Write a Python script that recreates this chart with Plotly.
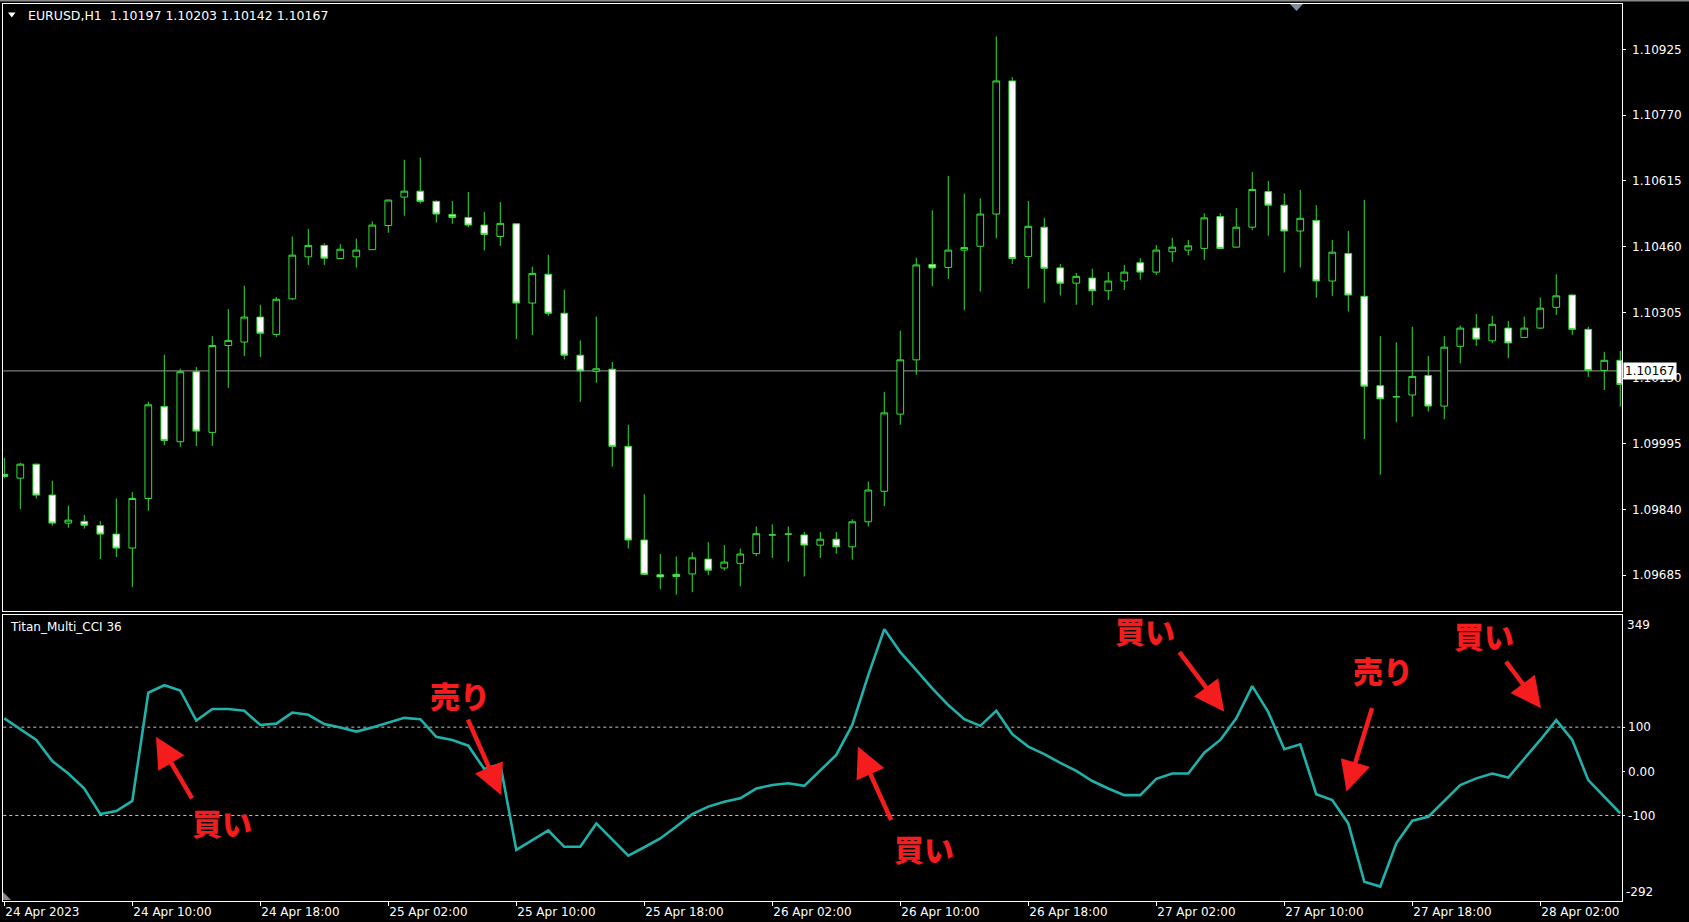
import plotly.graph_objects as go

# ---------------- data ----------------
bar_index = list(range(102))  # H1 bars, 24 Apr 2023 02:00 ... 28 Apr 07:00

open_ = [1.09923, 1.09914, 1.09947, 1.09874, 1.09808, 1.09812, 1.09802, 1.09782, 1.09749, 1.09866,
         1.10083, 1.10000, 1.10165, 1.10022, 1.10227, 1.10235, 1.10294, 1.10253, 1.10337, 1.10436,
         1.10463, 1.10432, 1.10436, 1.10453, 1.10510, 1.10577, 1.10591, 1.10567, 1.10536, 1.10529,
         1.10511, 1.10484, 1.10514, 1.10327, 1.10395, 1.10303, 1.10204, 1.10166, 1.10171, 1.09989,
         1.09768, 1.09686, 1.09687, 1.09688, 1.09723, 1.09702, 1.09713, 1.09736, 1.09780, 1.09782,
         1.09780, 1.09756, 1.09770, 1.09752, 1.09811, 1.09883, 1.10065, 1.10193, 1.10418, 1.10411,
         1.10452, 1.10461, 1.10537, 1.10851, 1.10437, 1.10506, 1.10410, 1.10374, 1.10386, 1.10356,
         1.10379, 1.10422, 1.10400, 1.10448, 1.10452, 1.10456, 1.10531, 1.10459, 1.10506, 1.10590,
         1.10558, 1.10497, 1.10522, 1.10379, 1.10444, 1.10343, 1.10132, 1.10106, 1.10110, 1.10156,
         1.10084, 1.10225, 1.10268, 1.10238, 1.10268, 1.10246, 1.10268, 1.10317, 1.10346, 1.10265,
         1.10168, 1.10192]
high = [1.09962, 1.09950, 1.09948, 1.09908, 1.09849, 1.09827, 1.09813, 1.09866, 1.09881, 1.10094,
        1.10205, 1.10172, 1.10176, 1.10249, 1.10313, 1.10368, 1.10323, 1.10341, 1.10484, 1.10502,
        1.10468, 1.10466, 1.10479, 1.10520, 1.10571, 1.10665, 1.10670, 1.10569, 1.10568, 1.10589,
        1.10542, 1.10565, 1.10515, 1.10413, 1.10441, 1.10358, 1.10239, 1.10295, 1.10188, 1.10040,
        1.09876, 1.09735, 1.09729, 1.09739, 1.09763, 1.09756, 1.09748, 1.09800, 1.09805, 1.09800,
        1.09787, 1.09787, 1.09787, 1.09817, 1.09906, 1.10117, 1.10262, 1.10434, 1.10546, 1.10627,
        1.10585, 1.10574, 1.10956, 1.10860, 1.10568, 1.10528, 1.10419, 1.10398, 1.10408, 1.10400,
        1.10417, 1.10433, 1.10464, 1.10481, 1.10476, 1.10539, 1.10539, 1.10551, 1.10636, 1.10615,
        1.10586, 1.10594, 1.10558, 1.10476, 1.10497, 1.10570, 1.10249, 1.10234, 1.10271, 1.10202,
        1.10249, 1.10274, 1.10301, 1.10297, 1.10285, 1.10295, 1.10340, 1.10395, 1.10347, 1.10271,
        1.10212, 1.10214]
low = [1.09914, 1.09841, 1.09866, 1.09802, 1.09797, 1.09795, 1.09723, 1.09728, 1.09657, 1.09837,
       1.09992, 1.09988, 1.09990, 1.09990, 1.10127, 1.10202, 1.10200, 1.10247, 1.10334, 1.10417,
       1.10417, 1.10432, 1.10411, 1.10452, 1.10493, 1.10533, 1.10562, 1.10517, 1.10514, 1.10506,
       1.10451, 1.10462, 1.10242, 1.10252, 1.10297, 1.10194, 1.10094, 1.10139, 1.09941, 1.09748,
       1.09686, 1.09652, 1.09639, 1.09645, 1.09685, 1.09696, 1.09659, 1.09730, 1.09726, 1.09717,
       1.09682, 1.09726, 1.09736, 1.09722, 1.09800, 1.09848, 1.10040, 1.10158, 1.10367, 1.10384,
       1.10310, 1.10354, 1.10480, 1.10419, 1.10361, 1.10328, 1.10345, 1.10323, 1.10322, 1.10334,
       1.10358, 1.10382, 1.10393, 1.10424, 1.10440, 1.10429, 1.10455, 1.10458, 1.10499, 1.10486,
       1.10399, 1.10411, 1.10340, 1.10344, 1.10307, 1.10006, 1.09922, 1.10046, 1.10059, 1.10071,
       1.10053, 1.10185, 1.10226, 1.10232, 1.10197, 1.10245, 1.10266, 1.10299, 1.10252, 1.10153,
       1.10122, 1.10083]
close = [1.09918, 1.09947, 1.09874, 1.09808, 1.09815, 1.09803, 1.09782, 1.09749, 1.09866, 1.10087,
         1.10003, 1.10165, 1.10025, 1.10227, 1.10239, 1.10294, 1.10256, 1.10336, 1.10440, 1.10463,
         1.10433, 1.10454, 1.10452, 1.10511, 1.10570, 1.10591, 1.10567, 1.10537, 1.10529, 1.10511,
         1.10489, 1.10515, 1.10327, 1.10397, 1.10303, 1.10204, 1.10167, 1.10172, 1.09989, 1.09768,
         1.09687, 1.09681, 1.09682, 1.09726, 1.09697, 1.09716, 1.09735, 1.09783, 1.09780, 1.09782,
         1.09756, 1.09770, 1.09752, 1.09811, 1.09886, 1.10068, 1.10193, 1.10417, 1.10410, 1.10452,
         1.10458, 1.10537, 1.10851, 1.10432, 1.10508, 1.10409, 1.10374, 1.10390, 1.10356, 1.10379,
         1.10400, 1.10400, 1.10452, 1.10459, 1.10462, 1.10528, 1.10456, 1.10506, 1.10595, 1.10558,
         1.10497, 1.10527, 1.10379, 1.10447, 1.10346, 1.10131, 1.10101, 1.10106, 1.10154, 1.10084,
         1.10223, 1.10268, 1.10242, 1.10277, 1.10233, 1.10268, 1.10315, 1.10344, 1.10265, 1.10168,
         1.10192, 1.10135]

cci = [120, 96, 71, 23, -5, -39, -97, -90, -67, 178,
       195, 183, 115, 141, 141, 137, 105, 108, 133, 128,
       107, 99, 90, 99, 110, 121, 118, 78, 71, 58,
       5, 16, -178, -156, -134, -171, -171, -118, -154, -191,
       -172, -152, -125, -97, -80, -69, -61, -39, -31, -27,
       -33, 1, 37, 105, 218, 322, 270, 229, 188, 150,
       118, 103, 137, 84, 56, 39, 19, 1, -22, -39,
       -54, -54, -17, -5, -5, 42, 71, 120, 193, 134,
       50, 61, -52, -65, -118, -250, -261, -163, -112, -103,
       -67, -31, -16, -5, -14, 28, 71, 116, 71, -20,
       -57, -95]

time_tick_bars = [0, 8, 16, 24, 32, 40, 48, 56, 64, 72, 80, 88, 96]
time_tick_labels = ["24 Apr 2023", "24 Apr 10:00", "24 Apr 18:00", "25 Apr 02:00", "25 Apr 10:00",
                    "25 Apr 18:00", "26 Apr 02:00", "26 Apr 10:00", "26 Apr 18:00", "27 Apr 02:00",
                    "27 Apr 10:00", "27 Apr 18:00", "28 Apr 02:00"]
price_ticks = [1.09685, 1.09840, 1.09995, 1.10150, 1.10305, 1.10460, 1.10615, 1.10770, 1.10925]
cci_ticks = [100, 0, -100]
cci_tick_labels = ["100", "0.00", "-100"]
cci_levels = [100, -100]
cci_scale_max, cci_scale_min = 349, -292
bid_price = 1.10167
header = "EURUSD,H1\u00a0\u00a01.10197 1.10203 1.10142 1.10167"
indicator_name = "Titan_Multi_CCI 36"

# signals: (label, text bar, text cci, arrow-tip bar, arrow-tip cci, tail dx px, tail dy px)
signals = [
    ("買い", 13.6, -115, 9.48, 78, 37, 63),
    ("売り", 28.5, 173, 31.06, -54, -34, -77),
    ("買い", 57.5, -174, 53.35, 56, 34, 75),
    ("買い", 71.3, 319, 76.25, 135, -46, -61),
    ("売り", 86.2, 229, 83.89, -46, 26, -85),
    ("買い", 92.5, 309, 96.04, 143, -36, -48),
]

# ---------------- figure ----------------
W, H = 1689, 922
def px(x):
    return x / W
def py(y):
    return 1 - y / H

GREEN = "#35e035"
TEAL = "#20b2aa"
RED = "#f41c1c"
FONT = "DejaVu Sans"
X_RANGE = [-0.0625, 101.09]

fig = go.Figure()
fig.add_trace(go.Candlestick(
    x=bar_index, open=open_, high=high, low=low, close=close,
    xaxis="x", yaxis="y",
    increasing=dict(line=dict(color=GREEN, width=1), fillcolor="black"),
    decreasing=dict(line=dict(color=GREEN, width=1), fillcolor="white"),
    whiskerwidth=0, showlegend=False, hoverinfo="skip",
))
fig.add_trace(go.Scatter(
    x=bar_index, y=cci, xaxis="x2", yaxis="y2", mode="lines",
    line=dict(color=TEAL, width=2.6), showlegend=False, hoverinfo="skip",
))

axis_common = dict(showgrid=False, zeroline=False, showline=True, linecolor="white",
                   linewidth=1, mirror=True)
tickfont = dict(family=FONT, size=12, color="white")

fig.update_layout(
    width=W, height=H, margin=dict(l=0, r=0, t=0, b=0),
    paper_bgcolor="black", plot_bgcolor="black", showlegend=False,
    hovermode=False, boxgap=0.4,
    xaxis=dict(domain=[px(3.3), px(1621.7)], range=X_RANGE, anchor="y",
               showticklabels=False, ticks="", rangeslider=dict(visible=False),
               **axis_common),
    yaxis=dict(domain=[py(611), py(4)], range=[1.096006, 1.110325], anchor="x",
               side="right", tickvals=price_ticks,
               ticktext=[f"{v:.5f}" for v in price_ticks],
               ticks="outside", ticklen=3, tickcolor="white", tickfont=tickfont,
               ticklabelstandoff=4, **axis_common),
    xaxis2=dict(domain=[px(3.3), px(1621.7)], range=X_RANGE, anchor="y2",
                tickvals=time_tick_bars, ticktext=time_tick_labels,
                ticks="outside", ticklen=4, tickcolor="white", tickfont=tickfont,
                ticklabelposition="outside right", rangeslider=dict(visible=False),
                **axis_common),
    yaxis2=dict(domain=[py(900.5), py(615)], range=[-292.6, 354], anchor="x2",
                side="right", tickvals=cci_ticks, ticktext=cci_tick_labels,
                ticks="outside", ticklen=2, tickcolor="white", tickfont=tickfont,
                ticklabelstandoff=1, **axis_common),
)

shapes = []
# bid line
shapes.append(dict(type="line", xref="x domain", x0=0, x1=1, yref="y", y0=bid_price, y1=bid_price,
                   line=dict(color="#9a9a9a", width=1), layer="below"))
# CCI levels
for lv in cci_levels:
    shapes.append(dict(type="line", xref="x2 domain", x0=0, x1=1, yref="y2", y0=lv, y1=lv,
                       line=dict(color="#c8c8c8", width=1, dash="3px,3px"), layer="below"))
# window strip at top
shapes.append(dict(type="rect", xref="paper", yref="paper", x0=0, x1=1, y0=py(1.5), y1=1,
                   fillcolor="#8a8a8a", line=dict(width=0)))
# chart shift marker
shapes.append(dict(type="path", xref="paper", yref="paper",
                   path=f"M {px(1290)} {py(4)} L {px(1303)} {py(4)} L {px(1296.5)} {py(11)} Z",
                   fillcolor="#8090a0", line=dict(width=0)))
# bottom-left marker
shapes.append(dict(type="path", xref="paper", yref="paper",
                   path=f"M {px(3)} {py(892)} L {px(3)} {py(900)} L {px(11)} {py(900)} Z",
                   fillcolor="#8a8a8a", line=dict(width=0)))
# header triangle
shapes.append(dict(type="path", xref="paper", yref="paper",
                   path=f"M {px(8)} {py(12.5)} L {px(15.5)} {py(12.5)} L {px(11.75)} {py(17.5)} Z",
                   fillcolor="white", line=dict(width=0)))
fig.update_layout(shapes=shapes)

ann = []
ann.append(dict(text=header, xref="paper", yref="paper", x=px(26), y=py(15.5),
                xanchor="left", yanchor="middle", showarrow=False,
                font=dict(family=FONT, size=12.5, color="white")))
ann.append(dict(text=indicator_name, xref="paper", yref="paper", x=px(7.5), y=py(627),
                xanchor="left", yanchor="middle", showarrow=False,
                font=dict(family=FONT, size=12, color="white")))
ann.append(dict(text=f"{bid_price:.5f}", xref="paper", yref="y", x=px(1622.5), y=bid_price,
                xanchor="left", yanchor="middle", showarrow=False, bgcolor="white",
                borderpad=1, font=dict(family=FONT, size=12, color="black")))
ann.append(dict(text=str(cci_scale_max), xref="paper", yref="paper", x=px(1625), y=py(625),
                xanchor="left", yanchor="middle", showarrow=False,
                font=dict(family=FONT, size=12, color="white")))
ann.append(dict(text=str(cci_scale_min), xref="paper", yref="paper", x=px(1624), y=py(891.5),
                xanchor="left", yanchor="middle", showarrow=False,
                font=dict(family=FONT, size=12, color="white")))
for label, tx, ty, ax_bar, ay_val, dx, dy in signals:
    ann.append(dict(text="", x=ax_bar, y=ay_val, xref="x2", yref="y2", showarrow=True,
                    ax=dx, ay=dy, arrowhead=2, arrowsize=1.35, arrowwidth=4.5,
                    arrowcolor=RED, standoff=0))
    ann.append(dict(text=label, x=tx, y=ty, xref="x2", yref="y2", showarrow=False,
                    xanchor="center", yanchor="middle",
                    font=dict(family="Noto Sans CJK JP", size=30, color=RED, weight=900)))
fig.update_layout(annotations=ann)

page_css = ("document.body.style.margin='0px';document.body.style.padding='0px';"
            "document.body.style.overflow='hidden';document.body.style.background='black';"
            "document.documentElement.style.background='black';")
fig.write_html("out.html", post_script=page_css,
               config={"displayModeBar": False, "staticPlot": True})
